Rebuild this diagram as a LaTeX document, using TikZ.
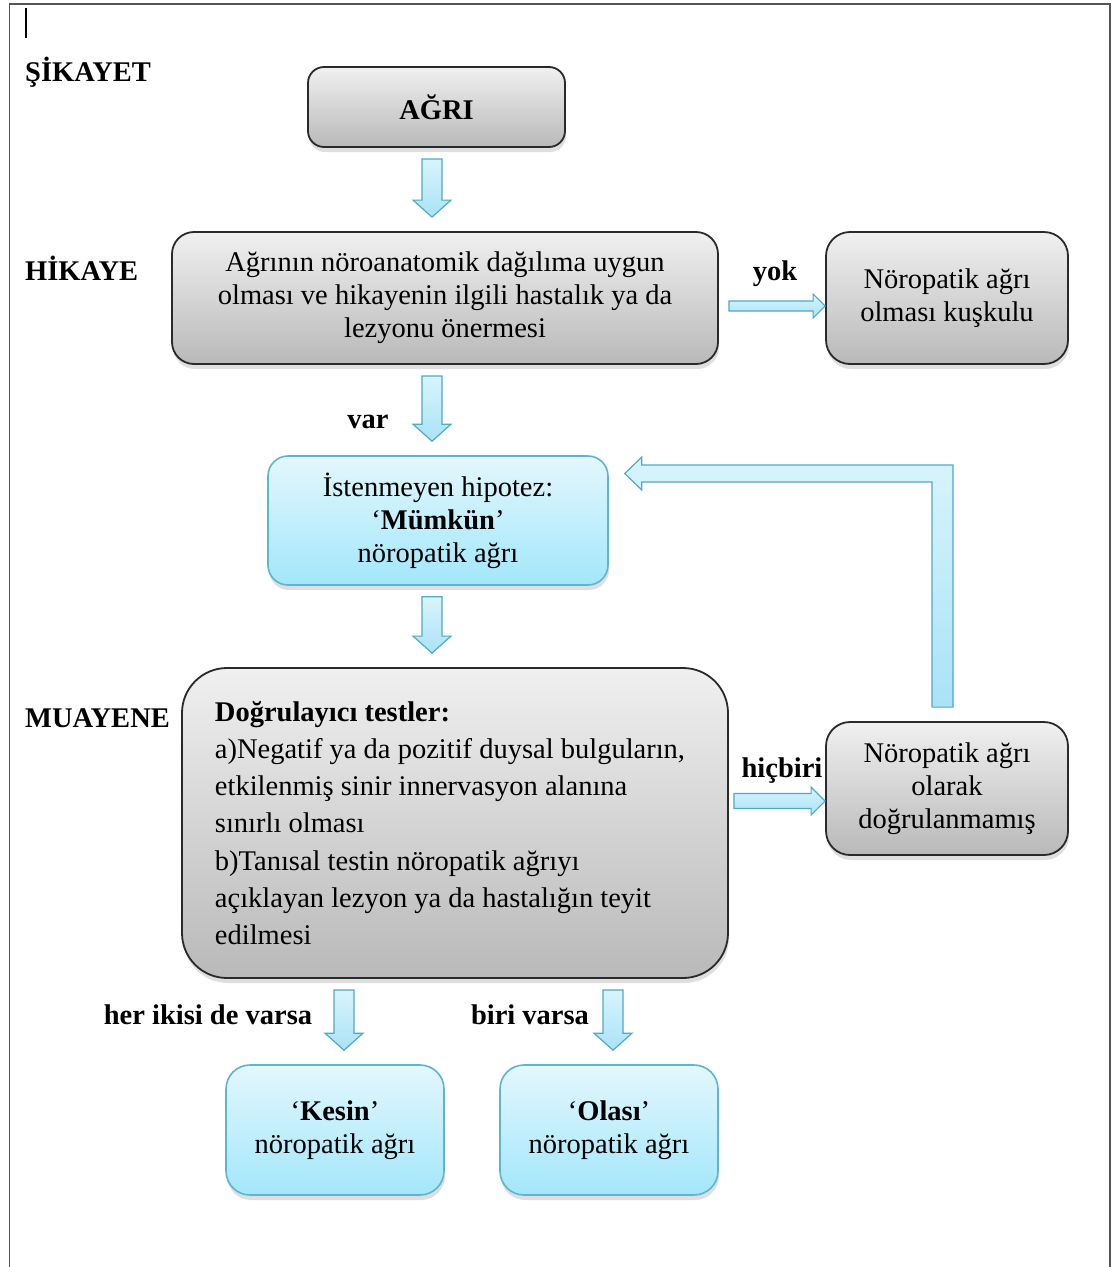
\documentclass[tikz,border=0pt]{standalone}
\usepackage{fontspec}
\setmainfont{Liberation Serif}
\usetikzlibrary{calc,shadows}
\definecolor{gtop}{HTML}{F0F0F0}
\definecolor{gbot}{HTML}{B9B9B9}
\definecolor{gline}{HTML}{2A2A2A}
\definecolor{btop}{HTML}{E4F7FD}
\definecolor{bbot}{HTML}{A2E7FB}
\definecolor{bline}{HTML}{5BB5D3}
\definecolor{atop}{HTML}{D8F4FD}
\definecolor{abot}{HTML}{A9E3F6}
\definecolor{aline}{HTML}{4FA9C8}
\definecolor{framecol}{HTML}{555555}
\tikzset{
  boxfont/.style={font=\fontsize{28.5}{33}\selectfont},
  graybox/.style={draw=gline, line width=1.8pt, top color=gtop, bottom color=gbot,
    rounded corners=#1, align=center, boxfont,
    drop shadow={shadow xshift=1pt, shadow yshift=-5pt, opacity=0.25}},
  bluebox/.style={draw=bline, line width=1.6pt, top color=btop, bottom color=bbot,
    rounded corners=#1, align=center, boxfont,
    drop shadow={shadow xshift=1pt, shadow yshift=-5pt, opacity=0.25}},
  barrow/.style={draw=aline, line width=1.2pt, line join=miter, top color=atop, bottom color=abot},
  lbl/.style={font=\fontsize{28.5}{33}\selectfont\bfseries, inner sep=0pt, anchor=base}
}
% vertical block arrow: #1 x (px), #2 source anchor, #3 target anchor
\newcommand\vblockarrow[3]{%
  \draw[barrow] let \p1=(#2), \p2=(#3) in
    ({#1pt-10pt},{\y1-11pt}) -- ({#1pt+10pt},{\y1-11pt}) -- ({#1pt+10pt},{\y2+31pt})
    -- ({#1pt+19pt},{\y2+31pt}) -- ({#1pt},{\y2+14pt}) -- ({#1pt-19pt},{\y2+31pt})
    -- ({#1pt-10pt},{\y2+31pt}) -- cycle;}
% horizontal block arrow: #1 y (px), #2 source, #3 target, #4 gap, #5 shaft half, #6 head half, #7 head length
\newcommand\hblockarrow[7]{%
  \draw[barrow] let \p1=(#2), \p2=(#3) in
    ({\x1+#4},{-#1pt+#5}) -- ({\x2-#7},{-#1pt+#5}) -- ({\x2-#7},{-#1pt+#6})
    -- ({\x2},{-#1pt}) -- ({\x2-#7},{-#1pt-#6}) -- ({\x2-#7},{-#1pt-#5})
    -- ({\x1+#4},{-#1pt-#5}) -- cycle;}
\begin{document}
\begin{tikzpicture}[x=1pt,y=-1pt]
\useasboundingbox (0,0) rectangle (1113,1267);
\fill[white] (0,0) rectangle (1113,1267);
\draw[framecol, line width=1.5pt] (9.5,1267) -- (9.5,4) -- (1110,4) -- (1110,1267);
\draw[black, line width=1.4pt] (26,8) -- (26,38);

% section labels
\node[lbl, anchor=base west] (sik) at (25,81) {ŞİKAYET};
\node[lbl, anchor=base west] (hikl) at (25,280) {HİKAYE};
\node[lbl, anchor=base west] (mual) at (25,727) {MUAYENE};

% boxes
\node[graybox=16pt, minimum width=257pt, minimum height=80pt] (agri) at (436.5,107) {\textbf{AĞRI}};
\node[graybox=22pt, minimum width=546pt, minimum height=132pt] (hik) at (445,298)
  {Ağrının nöroanatomik dağılıma uygun\\olması ve hikayenin ilgili hastalık ya da\\lezyonu önermesi};
\node[graybox=24pt, minimum width=242pt, minimum height=132pt] (kusku) at (947,298)
  {Nöropatik ağrı\\olması kuşkulu};
\node[bluebox=20pt, minimum width=340pt, minimum height=129pt] (mumkun) at (438,520.5)
  {İstenmeyen hipotez:\\‘\textbf{Mümkün}’\\nöropatik ağrı};
\node[graybox=45pt, minimum width=546pt, minimum height=310pt, align=left,
      font=\fontsize{28.5}{37.3}\selectfont] (test) at (455,823)
  {\textbf{Doğrulayıcı testler:}\\a)Negatif ya da pozitif duysal bulguların,\rule{10pt}{0pt}\\etkilenmiş sinir innervasyon alanına\\sınırlı olması\\b)Tanısal testin nöropatik ağrıyı\\açıklayan lezyon ya da hastalığın teyit\\edilmesi};
\node[graybox=24pt, minimum width=242pt, minimum height=133pt] (dogr) at (947,788.5)
  {Nöropatik ağrı\\olarak\\doğrulanmamış};
\node[bluebox=24pt, minimum width=218pt, minimum height=130pt] (kesin) at (335,1130)
  {‘\textbf{Kesin}’\\nöropatik ağrı};
\node[bluebox=24pt, minimum width=218pt, minimum height=130pt] (olasi) at (609,1130)
  {‘\textbf{Olası}’\\nöropatik ağrı};

% arrows
\vblockarrow{432}{agri.south}{hik.north}
\vblockarrow{432}{hik.south}{mumkun.north}
\vblockarrow{432}{mumkun.south}{test.north}
\vblockarrow{344}{test.south}{kesin.north}
\vblockarrow{613}{test.south}{olasi.north}
\hblockarrow{306}{hik.east}{kusku.west}{10pt}{5pt}{12pt}{12pt}
\hblockarrow{801}{test.east}{dogr.west}{5pt}{7.5pt}{14pt}{14pt}
\draw[barrow] let \p1=(dogr.north), \p2=(mumkun.east) in
  (932pt,{\y1+14pt}) -- (953pt,{\y1+14pt}) -- (953pt,-465pt)
  -- ({\x2+33pt},-465pt) -- ({\x2+33pt},-457pt) -- ({\x2+16pt},-473.5pt)
  -- ({\x2+33pt},-490pt) -- ({\x2+33pt},-482pt) -- (932pt,-482pt) -- cycle;

% connector labels
\node[lbl] (yok) at (775,280) {yok};
\node[lbl] (var) at (368,428) {var};
\node[lbl] (hicbiri) at (782,777) {hiçbiri};
\node[lbl] (heriki) at (208,1024) {her ikisi de varsa};
\node[lbl] (biri) at (530,1024) {biri varsa};
\end{tikzpicture}
\end{document}
